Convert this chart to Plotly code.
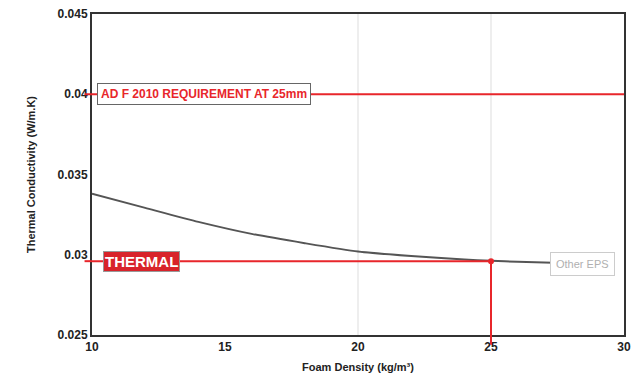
import plotly.graph_objects as go

# Thermal conductivity curve for "Other EPS"
density = [10, 12, 14, 16, 18, 20, 22, 24, 25, 26, 28]
conductivity = [0.0338, 0.03292, 0.03205, 0.0313, 0.03072, 0.0302, 0.02992, 0.02971, 0.02962, 0.02956, 0.02947]

requirement = 0.04
thermal_value = 0.0296
thermal_density = 25

x_ticks = [10, 15, 20, 25, 30]
y_ticks = [0.025, 0.03, 0.035, 0.04, 0.045]
y_ticktext = ['0.025', '0.03', '0.035', '0.04', '0.045']
x_grid = [20, 25]

RED = '#e8262b'
FONT = 'Liberation Sans'

fig = go.Figure()

# requirement line
fig.add_trace(go.Scatter(x=[10, 30], y=[requirement, requirement], mode='lines',
                         line=dict(color=RED, width=2), hoverinfo='skip'))
# EPS curve
fig.add_trace(go.Scatter(x=density, y=conductivity, mode='lines',
                         line=dict(color='#555555', width=2, shape='spline', smoothing=0.6),
                         hoverinfo='skip'))
# thermal line + drop
fig.add_trace(go.Scatter(x=[10, thermal_density, thermal_density],
                         y=[thermal_value, thermal_value, 0.025], mode='lines',
                         line=dict(color=RED, width=2), hoverinfo='skip'))
fig.add_trace(go.Scatter(x=[thermal_density], y=[thermal_value], mode='markers',
                         marker=dict(color=RED, size=6), hoverinfo='skip'))

shapes = []
for g in x_grid:
    shapes.append(dict(type='line', xref='x', yref='paper', x0=g, x1=g, y0=0, y1=1,
                       line=dict(color='#dddddd', width=1), layer='below'))
# small ticks extending left / below the frame
for yv in [requirement, thermal_value]:
    shapes.append(dict(type='line', xref='paper', yref='y', x0=-0.014, x1=0, y0=yv, y1=yv,
                       line=dict(color=RED, width=2)))
shapes.append(dict(type='line', xref='x', yref='paper', x0=thermal_density, x1=thermal_density,
                   y0=-0.03, y1=0, line=dict(color=RED, width=2)))

annotations = [
    dict(x=10.18, y=requirement, xref='x', yref='y', xanchor='left', showarrow=False,
         text='AD F 2010 REQUIREMENT AT 25mm',
         font=dict(family=FONT, size=12, color=RED, weight='bold'),
         bgcolor='white', bordercolor='#666666', borderwidth=1, borderpad=3),
    dict(x=10.4, y=thermal_value, xref='x', yref='y', xanchor='left', showarrow=False,
         text='THERMAL', font=dict(family=FONT, size=15, color='white', weight='bold'),
         bgcolor='#d8232a', bordercolor='#999999', borderwidth=1, borderpad=1),
    dict(x=27.2, y=0.02942, xref='x', yref='y', xanchor='left', showarrow=False,
         text='Other EPS', font=dict(family=FONT, size=11, color='#b0b0b0'),
         bgcolor='white', bordercolor='#cccccc', borderwidth=1, borderpad=5),
]

fig.update_layout(
    width=633, height=390,
    margin=dict(l=92, r=9, t=14, b=55),
    plot_bgcolor='white', paper_bgcolor='white',
    showlegend=False,
    shapes=shapes, annotations=annotations,
    font=dict(family=FONT, color='#222222'),
)
fig.update_xaxes(range=[10, 30], tickvals=x_ticks, showgrid=False, zeroline=False,
                 showline=True, linecolor='#333333', linewidth=2, mirror=True,
                 ticks='', automargin=False, tickfont=dict(size=12, weight='bold'),
                 title=dict(text='Foam Density (kg/m³)', font=dict(size=11, weight='bold'), standoff=10))
fig.update_yaxes(range=[0.025, 0.045], tickvals=y_ticks, ticktext=y_ticktext,
                 showgrid=False, zeroline=False,
                 showline=True, linecolor='#333333', linewidth=2, mirror=True,
                 ticks='', automargin=False, tickfont=dict(size=12, weight='bold'),
                 title=dict(text='Thermal Conductivity (W/m.K)', font=dict(size=11, weight='bold'), standoff=20))

# drop the browser's default body margin so the figure sits at the window's corner
fig.write_html('out.html', config={'displayModeBar': False},
               post_script="document.body.style.margin='0';document.body.style.overflow='hidden';")
